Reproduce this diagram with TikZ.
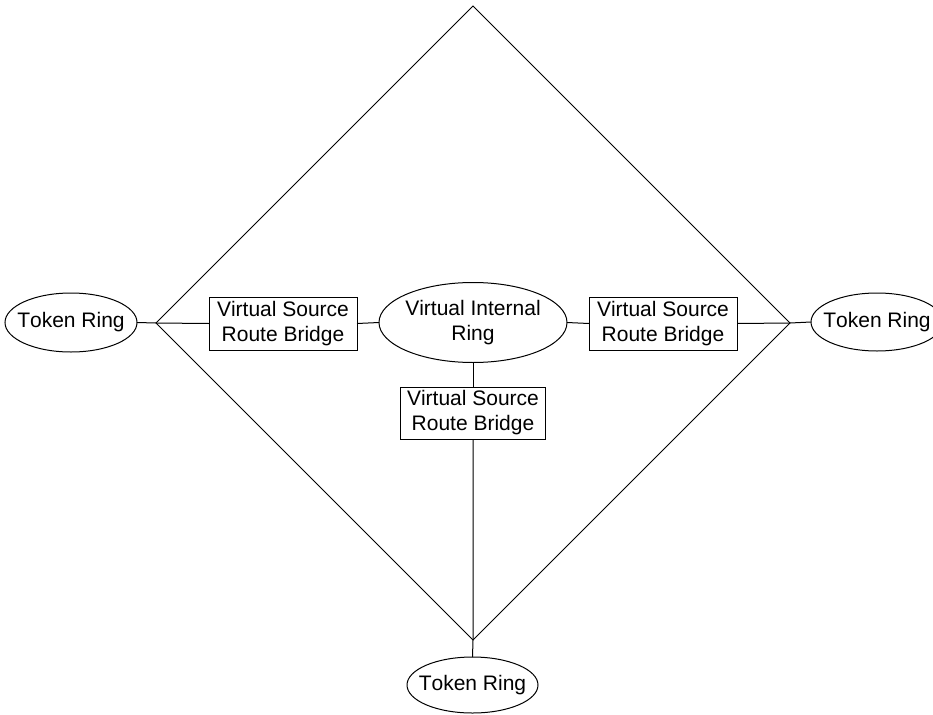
\documentclass[tikz,border=0pt]{standalone}
\usepackage{fontspec}
\setmainfont[Kerning=Off]{Liberation Sans}
\usetikzlibrary{shapes.geometric}
\begin{document}
\begin{tikzpicture}[x=1pt,y=-1pt,
  txt/.style={font=\fontsize{21}{25}\selectfont, align=center},
  every node/.style={inner sep=0pt, outer sep=0pt},
  ring/.style={draw, ellipse, line width=1pt, label={[txt]center:#1}},
  bridge/.style={draw, rectangle, txt, line width=1pt, minimum width=148pt, minimum height=53pt},
  wire/.style={line width=1pt}]
\useasboundingbox (0,0) rectangle (933,714);
\begin{scope}
\clip (0,0) rectangle (933,714);
% rings (text placed as centred labels so the outline keeps its size)
\node[ring=Token Ring, minimum width=132pt, minimum height=59pt] (trL) at (71,322.5) {};
\node[ring=Token Ring, minimum width=132pt, minimum height=58pt] (trR) at (877,322) {};
\node[ring=Token Ring, minimum width=131pt, minimum height=56pt] (trB) at (472.5,685) {};
\node[ring={Virtual Internal\\Ring}, minimum width=188pt, minimum height=80pt] (vir) at (473,322.5) {};
% bridges
\node[bridge] (brL) at (283,323.5) {Virtual Source\\Route Bridge};
\node[bridge] (brR) at (663,323.5) {Virtual Source\\Route Bridge};
\node[bridge, minimum width=145pt, minimum height=52pt] (brB) at (473,413) {Virtual Source\\Route Bridge};
% diamond corners
\coordinate (dT) at (473,6);
\coordinate (dL) at (156,323);
\coordinate (dR) at (790,323);
\coordinate (dB) at (473,640);
\draw[wire] (dT) -- (dR) -- (dB) -- (dL) -- cycle;
% links
\draw[wire] (trL.east) -- (dL) -- (brL.west);
\draw[wire] (brL.east) -- (vir.west);
\draw[wire] (vir.east) -- (brR.west);
\draw[wire] (brR.east) -- (dR) -- (trR.west);
\draw[wire] (vir.south) -- (brB.north);
\draw[wire] (brB.south) -- (dB) -- (trB.north);
\end{scope}
\end{tikzpicture}
\end{document}
